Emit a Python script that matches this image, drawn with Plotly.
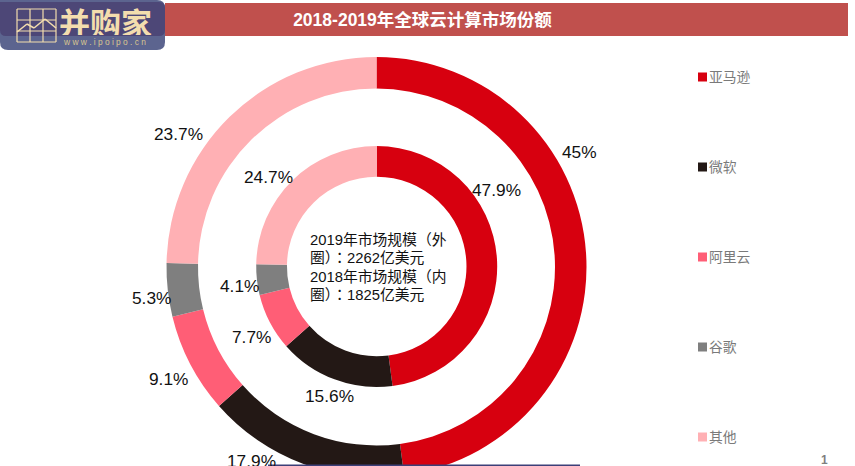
import plotly.graph_objects as go

# Data
companies = ["亚马逊", "微软", "阿里云", "谷歌", "其他"]
colors = ["#D7000F", "#231815", "#FF5E76", "#7F7F7F", "#FFB0B4"]
# both rings are drawn with the same shares in the source chart
ring_shares = [47.9, 15.6, 7.7, 4.1, 24.7]
outer_labels = ["45%", "17.9%", "9.1%", "5.3%", "23.7%"]
inner_labels = ["47.9%", "15.6%", "7.7%", "4.1%", "24.7%"]
title_text = "2018-2019年全球云计算市场份额"
center_lines = ["2019年市场规模（外", "圈）：2262亿美元", "2018年市场规模（内", "圈）：1825亿美元"]

# Layout, in page pixels. The canvas is taller than the window since the
# outer ring runs off the bottom of the page.
FIG_W, FIG_H = 855, 480
outer_label_pos = [(579, 152), (252, 461), (168, 379), (151, 298), (178, 134)]
inner_label_pos = [(497, 190), (329, 396), (252, 337), (239, 286), (268, 177)]
center_rows = [240, 258, 277, 295]
legend_rows = [77, 167, 257, 347, 437]
FONT = "Liberation Sans, Noto Sans CJK SC, sans-serif"
CENTER_FONT = "Liberation Sans, Noto Sans CJK TC, sans-serif"


def px(x):
    return x / FIG_W


def py(y):
    return 1 - y / FIG_H


def ring(values, cx, cy, r, hole, name):
    return go.Pie(
        values=values,
        labels=companies,
        name=name,
        marker={"colors": colors, "line": {"width": 0}},
        domain={"x": [px(cx - r), px(cx + r)], "y": [py(cy + r), py(cy - r)]},
        hole=hole,
        sort=False,
        direction="clockwise",
        rotation=0,
        textinfo="none",
        showlegend=False,
    )


def rect(x0, y0, x1, y1, color):
    return dict(type="rect", xref="paper", yref="paper", x0=px(x0), x1=px(x1),
                y0=py(y0), y1=py(y1), fillcolor=color, line={"width": 0}, layer="above")


def line(x0, y0, x1, y1, color, width=1.2):
    return dict(type="line", xref="paper", yref="paper", x0=px(x0), x1=px(x1),
                y0=py(y0), y1=py(y1), line={"color": color, "width": width}, layer="above")


def text(x, y, s, size, color="#111111", xanchor="center", family=FONT, **kwargs):
    return dict(x=px(x), y=py(y), xref="paper", yref="paper", text=s, showarrow=False,
                xanchor=xanchor, yanchor="middle", align=xanchor,
                font={"size": size, "color": color, "family": family}, **kwargs)


def rounded_path(x0, y0, x1, y1, r):
    return (
        f"M {px(x0)} {py(y0)} L {px(x1 - r)} {py(y0)} "
        f"Q {px(x1)} {py(y0)} {px(x1)} {py(y0 + r)} "
        f"L {px(x1)} {py(y1 - r)} Q {px(x1)} {py(y1)} {px(x1 - r)} {py(y1)} "
        f"L {px(x0 + r)} {py(y1)} Q {px(x0)} {py(y1)} {px(x0)} {py(y1 - r)} Z"
    )


fig = go.Figure()
fig.add_trace(ring(ring_shares, 376.5, 267, 210, 0.85, "2019"))
fig.add_trace(ring(ring_shares, 376.7, 266.5, 120.5, 0.745, "2018"))

# Title band, logo and the rule at the bottom
cream = "#F3DDAE"
shapes = [rect(165, 3, 848, 36, "#C0504D")]
shapes.append(dict(type="path", path=rounded_path(0, 0, 165, 50, 8), xref="paper", yref="paper",
                   fillcolor="#5C648F", line={"width": 0}, layer="above"))
shapes.append(dict(type="path", path=rounded_path(0, 2, 165, 36, 6), xref="paper", yref="paper",
                   fillcolor="#4D4777", line={"width": 0}, layer="above"))
for gx in (17, 30, 43, 56):
    shapes.append(line(gx, 9, gx, 42, cream))
for gy in (9, 20, 31, 42):
    shapes.append(line(17, gy, 56, gy, cream))
zigzag = [(17, 32), (27, 24), (34, 28), (45, 19), (56, 28)]
for (ax, ay), (bx, by) in zip(zigzag, zigzag[1:]):
    shapes.append(line(ax, ay, bx, by, cream, 1.6))
shapes.append(line(268, 465.3, 580, 465.3, "#3C3F78", 1.4))

# Legend keys
for row, color in zip(legend_rows, colors):
    shapes.append(rect(698, row - 4.5, 707, row + 4.5, color))

notes = []
for (x, y), s in zip(outer_label_pos + inner_label_pos, outer_labels + inner_labels):
    notes.append(text(x, y, s, 17.3))
for row, name in zip(legend_rows, companies):
    notes.append(text(707, row, name, 13.8, "#7A7A7A", "left"))
for row, s in zip(center_rows, center_lines):
    notes.append(text(308, row, s, 14.8, "#111111", "left", family=CENTER_FONT))
notes.append(text(824, 460, "<b>1</b>", 12, "#7F7F7F"))
notes.append(text(105, 21, "<b>并购家</b>", 31, cream, family="Noto Sans CJK SC", height=28))
notes.append(text(104.5, 42, "w w w . i p o i p o . c n", 8.4, "#D9C58F", height=10))

fig.update_layout(
    width=FIG_W,
    height=FIG_H,
    margin={"l": 0, "r": 0, "t": 0, "b": 0, "pad": 0},
    paper_bgcolor="white",
    plot_bgcolor="white",
    title={"text": f"<b>{title_text}</b>", "x": 422.5 / FIG_W, "xanchor": "center",
           "y": py(20), "yanchor": "middle", "font": {"size": 17.5, "color": "white", "family": FONT}},
    shapes=shapes,
    annotations=notes,
)

# Page must sit flush with the window, and the overflow must not scroll
fig.write_html(
    "out.html",
    config={"displayModeBar": False},
    post_script="document.body.style.margin='0';document.documentElement.style.overflow='hidden';",
)
